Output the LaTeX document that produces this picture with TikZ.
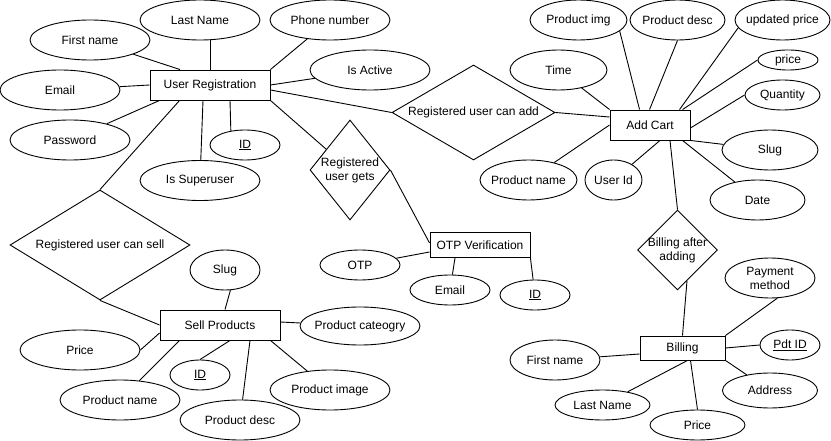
\documentclass[tikz,border=0pt]{standalone}
\usepackage{fontspec}
\setmainfont{Liberation Sans}
\usetikzlibrary{shapes.geometric}

\begin{document}
\begin{tikzpicture}[x=1pt,y=-1pt,line width=0.9pt,font=\fontsize{12}{14}\selectfont]
\tikzset{
entity/.style = {draw, rectangle, inner sep=2pt, minimum height=30pt, minimum width=120pt},
attribute/.style = {draw, ellipse, align=center, inner xsep=-12pt, inner ysep=-4pt, minimum height=40pt, minimum width=120pt},
relation/.style = {draw, diamond, align=center, inner sep=-4pt}
}
\useasboundingbox (0,0) rectangle (831,441);

% user registration
\node [entity] (userreg) at (210,85) {User Registration};
\node [attribute] (firstname) at (90,40) {First name};
\node [attribute] (lastname) at (200,20) {Last Name};
\node [attribute] (phonenumber) at (330,20) {Phone number};
\node [attribute] (isactive) at (370,70) {Is Active};
\node [attribute] (email) at (60,90) {Email};
\node [attribute] (password) at (70,140) {Password};
\node [attribute] (issuperuser) at (200,180.5) {Is Superuser};
\node [attribute, minimum width=70pt, minimum height=30pt] (userid) at (245,145) {\underline{ID}};

% relations
\node [relation, minimum width=180pt, minimum height=110pt, aspect=1.64] (cansell) at (100,245) {Registered user can sell};
\node [relation, minimum width=80pt, minimum height=100pt, aspect=0.8] (gets) at (350,170) {Registered\\user gets};
\node [relation, minimum width=163pt, minimum height=95pt, aspect=1.7] (canadd) at (473.5,112.5) {Registered user can add};
\node [relation, minimum width=80pt, minimum height=80pt, aspect=1] (billafter) at (677.5,250) {Billing after\\adding};

% add cart
\node [entity, minimum width=80pt] (addcart) at (650,125) {Add Cart};
\node [attribute, minimum width=97pt] (time) at (558.5,70) {Time};
\node [attribute, minimum width=97pt] (productimg) at (578.5,20) {Product img};
\node [attribute, minimum width=95pt] (productdesc) at (677.5,20) {Product desc};
\node [attribute, minimum width=95pt] (updatedprice) at (782.5,20) {updated price};
\node [attribute, minimum width=60pt, minimum height=20pt] (price) at (788,60) {price};
\node [attribute, minimum width=75pt, minimum height=30pt] (quantity) at (782.5,95) {Quantity};
\node [attribute, minimum width=96pt] (slug) at (770,150) {Slug};
\node [attribute, minimum width=95pt] (date) at (757.5,200) {Date};
\node [attribute, minimum width=57pt] (cartuserid) at (613.5,180) {User Id};
\node [attribute, minimum width=97pt] (cartproductname) at (528.5,180) {Product name};

% otp verification
\node [entity, minimum width=100pt, minimum height=25pt] (otpverif) at (480,245) {OTP Verification};
\node [attribute, minimum width=80pt, minimum height=30pt] (otp) at (360,265) {OTP};
\node [attribute, minimum width=80pt, minimum height=30pt] (otpemail) at (450,290) {Email};
\node [attribute, minimum width=70pt, minimum height=30pt] (otpid) at (535,295) {\underline{ID}};

% sell products
\node [entity] (sellproducts) at (220,325) {Sell Products};
\node [attribute, minimum width=70pt] (sellslug) at (225,270) {Slug};
\node [attribute, minimum height=38pt] (productcategory) at (360,326) {Product cateogry};
\node [attribute] (sellprice) at (80,350) {Price};
\node [attribute, minimum width=60pt, minimum height=30pt] (sellid) at (200,375) {\underline{ID}};
\node [attribute] (sellproductname) at (120,400) {Product name};
\node [attribute] (sellproductdesc) at (240,420) {Product desc};
\node [attribute] (sellproductimage) at (330,390) {Product image};

% billing
\node [entity, minimum width=85pt, minimum height=24pt] (billing) at (682.5,348) {Billing};
\node [attribute, minimum width=90pt] (paymentmethod) at (770,278) {Payment\\method};
\node [attribute, minimum width=60pt, minimum height=30pt] (pdtid) at (790,345) {\underline{Pdt ID}};
\node [attribute, minimum width=95pt, minimum height=35pt] (address) at (770,390.5) {Address};
\node [attribute, minimum width=90pt] (billfirstname) at (555,360) {First name};
\node [attribute, minimum width=95pt, minimum height=30pt] (billlastname) at (602.5,405) {Last Name};
\node [attribute, minimum width=95pt, minimum height=30pt] (billprice) at (697.5,425) {Price};

\draw (userreg.north) -- (userreg.north |- lastname.south);
\draw ([xshift=-30pt]userreg.north) -- (firstname);
\draw (userreg.west) -- (email);
\draw ([xshift=10pt]userreg.south west) -- (password);
\draw ([xshift=-7pt]userreg.south) -- (issuperuser);
\draw ([xshift=20pt]userreg.south) -- (userid.135);
\draw (userreg.north east) -- (phonenumber);
\draw (userreg.east) -- (isactive);
\draw ([yshift=-5pt]userreg.east) -- (canadd.west);
\draw (userreg.south east) -- (gets);
\draw ([xshift=30pt]userreg.south west) -- (cansell.north);
\draw (gets.east) -- ([yshift=2pt]otpverif.west);

\draw (canadd.east) -- ([yshift=8pt]addcart.west);
\draw (addcart.north west) -- (time);
\draw ([xshift=30pt]addcart.north west) -- (productimg.-15);
\draw ([xshift=40pt]addcart.north west) -- (productdesc.south);
\draw ([xshift=70pt]addcart.north west) -- (updatedprice.190);
\draw ([xshift=73pt]addcart.north west) -- (price.west);
\draw ([yshift=-3pt]addcart.east) -- (quantity.west);
\draw (addcart.south east) -- (slug);
\draw ([xshift=-8pt]addcart.south east) -- (date);
\draw ([xshift=10pt]addcart.south) -- (cartuserid);
\draw (addcart.west) -- (cartproductname);
\draw ([xshift=20pt]addcart.south) -- (billafter.north);

\draw ([yshift=-7pt]otpverif.west) -- (otp);
\draw ([xshift=-25pt]otpverif.south) -- (otpemail);
\draw (otpverif.south east) -- (otpid);

\draw (cansell.south) -- (sellproducts.west);
\draw ([xshift=5pt]sellproducts.north) -- (sellslug.-75);
\draw ([yshift=3pt]sellproducts.east) -- (productcategory);
\draw ([yshift=-8pt]sellproducts.west) -- (sellprice.east);
\draw ([xshift=20pt]sellproducts.south west) -- (sellproductname);
\draw ([xshift=10pt]sellproducts.south) -- (sellid.north);
\draw ([xshift=30pt]sellproducts.south) -- (sellproductdesc);
\draw ([xshift=-10pt]sellproducts.south east) -- (sellproductimage);

\draw (billafter.-73) -- (billing.north);
\draw (billing.north east) -- (paymentmethod.-70);
\draw (billing.east) -- (pdtid.west);
\draw (billing.south east) -- (address);
\draw ([yshift=-6pt]billing.west) -- (billfirstname);
\draw ([xshift=5pt]billing.south) -- (billlastname);
\draw ([xshift=8pt]billing.south) -- (billprice.north);
\end{tikzpicture}
\end{document}
